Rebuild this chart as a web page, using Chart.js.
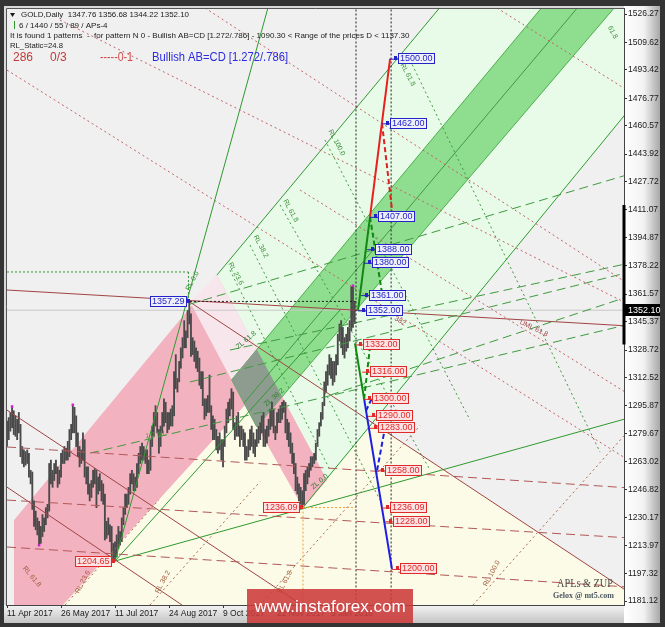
<!DOCTYPE html>
<html>
<head>
<meta charset="utf-8">
<script src="https://cdn.jsdelivr.net/npm/chart.js@4.4.0/dist/chart.umd.min.js"></script>
<style>
html, body { margin: 0; padding: 0; background: #343434; }
canvas { display: block; }
</style>
</head>
<body>
<canvas id="chart" width="665" height="627"></canvas>
<script>
// daily bars, GOLD, 11 Apr 2017 .. 26 Jan 2018 (index = bar number)
const highs = [
  1287,1289,1292,1295,1293,1290,1288,1292,1285,1272,
  1270,1269,1270,1268,1258,1257,1240,1234,1230,1228,
  1225,1232,1230,1236,1238,1262,1264,1258,1262,1264,
  1260,1258,1268,1270,1272,1271,1275,1282,1285,1296,
  1295,1290,1280,1272,1270,1280,1276,1260,1260,1250,
  1252,1258,1259,1258,1254,1256,1252,1250,1244,1228,
  1230,1226,1225,1215,1216,1220,1225,1222,1230,1236,
  1244,1244,1248,1256,1258,1256,1254,1262,1268,1272,
  1274,1272,1270,1270,1264,1276,1284,1292,1296,1292,
  1282,1284,1292,1300,1298,1292,1292,1294,1296,1316,
  1326,1312,1322,1330,1336,1346,1340,1352,1357.29,1350,
  1336,1334,1330,1328,1324,1316,1316,1300,1300,1302,
  1314,1296,1290,1288,1282,1278,1280,1276,1276,1284,
  1294,1298,1300,1306,1304,1286,1290,1292,1284,1284,
  1282,1280,1272,1276,1282,1284,1280,1276,1282,1284,
  1286,1290,1292,1282,1284,1288,1294,1298,1294,1284,
  1292,1294,1296,1298,1299,1298,1288,1286,1280,1274,
  1268,1262,1254,1250,1248,1246,1256,1258,1260,1262,
  1266,1266,1268,1274,1282,1286,1292,1298,1310,1316,
  1320,1326,1324,1322,1322,1326,1338,1344,1346,1342,
  1336,1338,1342,1346,1366,1366,1356.68
];
const lows = [
  1272,1276,1281,1283,1279,1278,1276,1280,1266,1262,
  1260,1261,1262,1254,1250,1235,1225,1223,1220,1214,
  1215,1219,1222,1226,1230,1234,1250,1248,1252,1256,
  1248,1250,1254,1262,1262,1264,1264,1266,1276,1280,
  1280,1272,1266,1260,1262,1264,1254,1250,1244,1240,
  1242,1248,1250,1236,1244,1246,1240,1238,1217,1218,
  1220,1216,1205,1205,1204.65,1207,1212,1214,1216,1226,
  1232,1236,1238,1244,1250,1246,1246,1248,1256,1262,
  1264,1264,1262,1256,1256,1258,1272,1278,1284,1280,
  1268,1272,1280,1284,1286,1280,1282,1284,1284,1290,
  1306,1304,1310,1318,1324,1330,1330,1336,1344,1325,
  1326,1322,1318,1316,1308,1306,1296,1288,1290,1292,
  1292,1282,1276,1276,1270,1268,1270,1264,1260,1272,
  1280,1286,1290,1294,1282,1276,1278,1278,1272,1276,
  1272,1264,1264,1266,1270,1272,1268,1266,1272,1274,
  1276,1280,1272,1272,1274,1278,1282,1284,1280,1276,
  1280,1286,1286,1288,1292,1280,1276,1272,1268,1262,
  1256,1246,1244,1240,1238,1236.09,1238,1246,1250,1254,
  1258,1260,1262,1264,1272,1278,1284,1288,1296,1304,
  1308,1314,1312,1308,1310,1314,1320,1334,1330,1326,
  1324,1328,1330,1334,1340,1342,1344.22
];
const dateTicks = [0, 32, 64, 96, 128, 160, 192];
const dateLabels = ['11 Apr 2017', '26 May 2017', '11 Jul 2017', '24 Aug 2017', '9 Oct 2017', '22 Nov 2017', '5 Jan 2018'];
const priceTicks = [1526.27, 1509.62, 1493.42, 1476.77, 1460.57, 1443.92, 1427.72, 1411.07, 1394.87, 1378.22, 1361.57,
  1345.37, 1328.72, 1312.52, 1295.87, 1279.67, 1263.02, 1246.82, 1230.17, 1213.97, 1197.32, 1181.12];
const lastPrice = 1352.10;
const zupPeaks = [[3, 1295.5], [19, 1214], [39, 1296.5], [205, 1366.5]];

// AB=CD targets
const upLevels = [1500, 1462, 1407, 1388, 1380, 1361, 1352];
const upBars = [227, 222.2, 215.1, 213.3, 211.6, 209.8, 208];
const downLevels = [1332, 1316, 1300, 1290, 1283, 1258, 1236.09, 1228, 1200];
const downBars = [206.2, 210.4, 211.6, 213.9, 215.1, 219.3, 222.2, 224, 228.1];
const pivotLevels = [1357.29, 1204.65, 1236.09];
const pivotBars = [108.4, 64, 175.4];

// filled channels [bar, price]
const yellowZone = [[30, 1175], [108.4, 1356.9], [369.2, 1185.8], [375, 1182], [375, 1175]];
const greenZone = [[124.4, 1372.8], [260.2, 1534.5], [421.9, 1534.5], [189.6, 1252.3]];
const pinkZone = [[4.1, 1175], [4.1, 1228.7], [124.4, 1372.8], [189.6, 1252.3], [175.4, 1235.8], [141, 1296.4], [29.7, 1175]];
const pinkCross = [[108.4, 1356.9], [124.4, 1372.8], [154.7, 1316.9], [141, 1296.4]];
const bandZone = [[133.1, 1311.2], [320.6, 1534.5], [363.8, 1534.5], [147.9, 1283.7]];
const grayZone = [[133.1, 1311.2], [148, 1329.1], [163, 1301.2], [147.9, 1283.7]];

// lines [bar1, price1, bar2, price2]
const greenSolid = [[64, 1204.65, 155.9, 1534.5], [124.4, 1372.8, 260.2, 1534.5], [175.4, 1236.09, 421.9, 1534.5],
  [64, 1204.65, 369.2, 1289], [64, 1204.65, 197.3, 1352.2]];
const bandMid = [[140.4, 1297.5, 341.9, 1534.5]];
const brownSolid = [[0, 1364, 369.2, 1342.8], [108.4, 1356.9, 369.2, 1185.8], [0, 1293.4, 174.8, 1178.8], [0, 1248.1, 103.7, 1178.8]];
const brownDash = [[0, 1271.7, 369.2, 1247.6], [0, 1240.5, 369.2, 1218.2], [0, 1212.9, 369.2, 1189.3]];
const greenDash = [[108.4, 1355.7, 369.2, 1432.2], [132.1, 1328.7, 369.2, 1379.9], [108.4, 1309.9, 369.2, 1374.6],
  [49.2, 1268.1, 369.2, 1344], [191.4, 1302.2, 369.2, 1360.5]];
const greenDot = [[188.4, 1452.2, 274.4, 1287.5], [161.8, 1414, 250.7, 1258.1], [144, 1390.4, 221, 1240.5],
  [238.8, 1499.2, 351.4, 1268.7], [132.1, 1375.7, 191.4, 1258.1]];
const redDot = [[290.4, 1529.8, 369.2, 1480.4], [117.3, 1529.8, 369.2, 1366.9], [31.4, 1522.7, 369.2, 1355.2],
  [0, 1493.3, 369.2, 1263.4], [173.6, 1422.8, 369.2, 1302.2]];
const brownDot = [[276.1, 1178.8, 371, 1284.3], [149.9, 1178.8, 244.7, 1284.3], [84.7, 1178.8, 150, 1251.4], [34.4, 1178.8, 90, 1240.6]];
const blackDot = [[206.8, 1175, 206.8, 1535], [227.6, 1175, 227.6, 1535], [108.4, 1357.29, 206.8, 1357.29]];
const greenGuide = [[0, 1374.6, 107.5, 1374.6], [107.5, 1374.6, 107.5, 1357.3]];
const orangeDot = [[175.4, 1236.09, 206.8, 1236.09], [175.4, 1236.09, 175.4, 1175]];
const priceLine = [[-1, 1352.1, 370, 1352.1]];
// projection legs
const legGreen = [[208, 1352, 215.1, 1407], [206.2, 1332.6, 211.6, 1300]];
const legGreenDash = [[215.1, 1407, 222.2, 1362.2], [211.6, 1300, 215, 1330]];
const legRed = [[215.1, 1407, 227, 1500]];
const legRedDash = [[222.2, 1462, 228.4, 1409]];
const legBlue = [[211.6, 1300, 228.1, 1200]];
const legBlueDash = [[212.7, 1293, 216.3, 1300.5], [219.3, 1258, 223.6, 1281]];

const lineTags = [
  ['RL 100.0', 191.4, 1458, 62, '#3d8f3d'], ['RL 61.8', 164.7, 1417, 62, '#3d8f3d'], ['RL 38.2', 147, 1396, 62, '#3d8f3d'],
  ['RL 23.6', 132.1, 1380, 62, '#3d8f3d'], ['RL 61.8', 234.1, 1497, 62, '#3d8f3d'], ['61.8', 357, 1519, 62, '#3d8f3d'],
  ['RL 0.0', 107, 1364, -62, '#3d8f3d'], ['1/2 ML', 82, 1278, -8, '#4d9a3d'],
  ['ZL 61.8', 136.3, 1330, -40, '#2f7f2f'], ['ZL 38.2', 152.9, 1296.4, -40, '#2f7f2f'], ['ZL 0.0', 180.7, 1247.6, -40, '#2f7f2f'],
  ['UML 61.8', 304, 1345.2, 25, '#a04848'], ['382', 229.9, 1347.5, 30, '#a04848'],
  ['RL 61.8', 10, 1201, 50, '#a05a3a'], ['RL 23.6', 41.5, 1186, -62, '#a05a3a'], ['RL 38.2', 88.9, 1186, -62, '#a05a3a'],
  ['RL 61.8', 161.2, 1186, -62, '#a05a3a'], ['RL 100.0', 283.3, 1190, -62, '#a05a3a']
];

Chart.defaults.font.family = '"Liberation Sans", Arial, sans-serif';

const datasets = [];
function poly(pts, bg, border, order) {
  datasets.push({
    type: 'line', data: pts.concat([pts[0]]).map(p => ({x: p[0], y: p[1]})),
    fill: 'shape', backgroundColor: bg, borderColor: border || 'rgba(0,0,0,0)', borderWidth: 1,
    pointRadius: 0, order: order
  });
}
function segs(list, color, width, dash, order) {
  list.forEach(s => datasets.push({
    type: 'line', data: [{x: s[0], y: s[1]}, {x: s[2], y: s[3]}],
    borderColor: color, borderWidth: width, borderDash: dash, pointRadius: 0, fill: false, order: order
  }));
}

poly(yellowZone, '#fbfbe8', null, 100);
poly(greenZone, '#e8fbe8', null, 99);
poly(pinkZone, '#f3b2c0', null, 98);
poly(pinkCross, '#f7e7ec', null, 97);
poly(bandZone, '#8fde8f', '#4caf4c', 96);
poly(grayZone, '#8e9c8f', null, 95);
segs(bandMid, '#3f9a3f', 1, [], 94);
segs(priceLine, '#c8c8c8', 1, [], 60);

datasets.push({
  type: 'bar', data: highs.map((h, i) => ({x: i, y: [lows[i], h]})),
  backgroundColor: '#4a4a4a', barThickness: 1.2, grouped: false, order: 50
});

segs(brownDash, '#b25858', 1, [9, 5], 20);
segs(redDot, '#c46262', 1, [2, 3], 20);
segs(brownDot, '#aa6a4a', 1, [2, 3], 20);
segs(greenDot, '#3f9a3f', 1, [2, 3], 20);
segs(greenDash, '#3f9a3f', 1, [9, 5], 20);
segs(brownSolid, '#a04444', 1, [], 20);
segs(greenSolid, '#2f9a2f', 1, [], 20);
segs(blackDot, '#222222', 1, [2, 2], 15);
segs(greenGuide, '#2f9a2f', 1, [2, 2], 15);
segs(orangeDot, '#f0a030', 1, [2, 2], 15);
segs(legGreenDash, '#118811', 2, [5, 3], 10);
segs(legRedDash, '#e02020', 2, [5, 3], 10);
segs(legBlueDash, '#1e1ee0', 2, [5, 3], 10);
segs(legGreen, '#118811', 2, [], 9);
segs(legRed, '#e82020', 2, [], 9);
segs(legBlue, '#1e1ee0', 2, [], 9);

datasets.push({
  type: 'line', showLine: false, data: zupPeaks.map(p => ({x: p[0], y: p[1]})),
  pointRadius: 1.8, pointStyle: 'rect', pointBackgroundColor: '#d020d0', pointBorderWidth: 0, order: 1
});
// last range marker on the price scale
datasets.push({
  type: 'line', data: [{x: 365.6, y: 1414}, {x: 365.6, y: 1332}], borderColor: '#000', borderWidth: 3,
  pointRadius: 0, clip: false, order: 1
});

function priceBox(ctx, px, py, text, color, fill, right) {
  ctx.font = '9px "Liberation Sans", Arial, sans-serif';
  const w = Math.round(ctx.measureText(text).width) + 4, h = 11;
  const bx = right ? Math.round(px) + 8 : Math.round(px) - 3 - w;
  const by = Math.round(py - h / 2);
  ctx.strokeStyle = color; ctx.lineWidth = 1;
  ctx.beginPath();
  if (right) { ctx.moveTo(px, py + 0.5); ctx.lineTo(bx, py + 0.5); } else { ctx.moveTo(bx + w, py + 0.5); ctx.lineTo(px, py + 0.5); }
  ctx.stroke();
  ctx.fillStyle = color;
  ctx.fillRect(right ? bx - 4 : bx + w, by + 3, 3, 4);
  ctx.fillStyle = fill; ctx.fillRect(bx, by, w, h);
  ctx.strokeRect(bx + 0.5, by + 0.5, w - 1, h - 1);
  ctx.fillStyle = color; ctx.textBaseline = 'middle'; ctx.textAlign = 'left';
  ctx.fillText(text, bx + 2, by + h / 2 + 0.5);
}

const frame = {
  id: 'frame',
  beforeDraw(chart) {
    const {ctx, chartArea: a, width, height} = chart;
    ctx.save();
    ctx.fillStyle = '#343434'; ctx.fillRect(0, 0, width, height);
    ctx.fillStyle = '#d8d8d8'; ctx.fillRect(4, 6, 656, 617);
    let g = ctx.createLinearGradient(a.right, 0, 660, 0);
    g.addColorStop(0, '#ffffff'); g.addColorStop(0.55, '#f2f2f2'); g.addColorStop(1, '#a8a8a8');
    ctx.fillStyle = g; ctx.fillRect(a.right, 6, 660 - a.right, 617);
    g = ctx.createLinearGradient(0, a.bottom, 0, 623);
    g.addColorStop(0, '#f4f4f4'); g.addColorStop(1, '#c4c4c4');
    ctx.fillStyle = g; ctx.fillRect(4, a.bottom, a.right - 4, 623 - a.bottom);
    ctx.fillStyle = '#f0f0f0'; ctx.fillRect(a.left, a.top, a.right - a.left, a.bottom - a.top);
    ctx.restore();
  }
};

const overlay = {
  id: 'overlay',
  afterDatasetsDraw(chart) {
    const {ctx, chartArea: a, scales: {x, y}} = chart;
    ctx.save();
    ctx.beginPath(); ctx.rect(a.left, a.top, a.right - a.left, a.bottom - a.top); ctx.clip();
    // labels along channel lines
    ctx.font = '7px "Liberation Sans", Arial, sans-serif';
    ctx.textBaseline = 'middle'; ctx.textAlign = 'left';
    lineTags.forEach(t => {
      ctx.save();
      ctx.translate(x.getPixelForValue(t[1]), y.getPixelForValue(t[2]));
      ctx.rotate(t[3] * Math.PI / 180);
      ctx.fillStyle = t[4]; ctx.fillText(t[0], 0, 0);
      ctx.restore();
    });
    // price labels
    upLevels.forEach((v, i) => priceBox(ctx, x.getPixelForValue(upBars[i]), y.getPixelForValue(v), v.toFixed(2), '#2323c8', '#eef0fb', true));
    downLevels.forEach((v, i) => priceBox(ctx, x.getPixelForValue(downBars[i]), y.getPixelForValue(v), v.toFixed(2), '#e02a2a', '#fde3e3', true));
    pivotLevels.forEach((v, i) => priceBox(ctx, x.getPixelForValue(pivotBars[i]), y.getPixelForValue(v), v.toFixed(2),
      i === 0 ? '#2323c8' : '#e02a2a', i === 0 ? '#eef0fb' : '#fde3e3', false));

    // header
    ctx.fillStyle = '#1a1a1a';
    ctx.beginPath(); ctx.moveTo(10, 13); ctx.lineTo(15, 13); ctx.lineTo(12.5, 17); ctx.closePath(); ctx.fill();
    ctx.font = '8px "Liberation Sans", Arial, sans-serif';
    ctx.fillText('GOLD,Daily  1347.76 1356.68 1344.22 1352.10', 21, 15, 168);
    ctx.fillStyle = '#2f9a2f'; ctx.fillRect(14, 21, 1, 8);
    ctx.fillStyle = '#1a1a1a';
    ctx.fillText('6 / 1440 / 55 / 89 / APs-4', 19, 25.5, 91);
    ctx.fillText('It is found 1 patterns  -  for pattern N 0 - Bullish AB=CD [1.272/.786] - 1090.30 < Range of the prices D < 1137.30', 10, 35.5, 405);
    ctx.fillText('RL_Static=24.8', 10, 46, 53);
    ctx.font = '12px "Liberation Sans", Arial, sans-serif';
    ctx.fillStyle = '#c23a3a';
    ctx.fillText('286', 13, 58);
    ctx.fillText('0/3', 50, 58);
    ctx.fillStyle = '#d04848';
    ctx.fillText('-----0-1', 100, 58, 33);
    ctx.fillStyle = '#2b2be0';
    ctx.fillText('Bullish AB=CD [1.272/.786]', 152, 58, 136);

    // signature
    ctx.fillStyle = '#4a4a4a';
    ctx.font = '12px "Liberation Serif", serif';
    ctx.fillText('APLs & ZUP', 557, 584, 56);
    ctx.fillStyle = '#4a5560';
    ctx.font = 'bold 8px "Liberation Serif", serif';
    ctx.fillText('Gelox @ mt5.com', 553, 596, 64);
    ctx.restore();
  },
  afterDraw(chart) {
    const {ctx, chartArea: a, scales: {y}} = chart;
    ctx.save();
    ctx.strokeStyle = '#555'; ctx.lineWidth = 1;
    ctx.beginPath();
    ctx.moveTo(a.left + 0.5, a.bottom); ctx.lineTo(a.left + 0.5, a.top + 0.5); ctx.lineTo(a.right, a.top + 0.5);
    ctx.stroke();
    // current price tag
    const py = Math.round(y.getPixelForValue(lastPrice));
    ctx.fillStyle = '#000'; ctx.fillRect(a.right + 1, py - 6, 35, 12);
    ctx.fillStyle = '#fff'; ctx.font = '9px "Liberation Sans", Arial, sans-serif';
    ctx.textBaseline = 'middle'; ctx.textAlign = 'left';
    ctx.fillText(lastPrice.toFixed(2), a.right + 4, py + 0.5);
    // watermark
    ctx.fillStyle = 'rgba(204, 58, 58, 0.88)';
    ctx.fillRect(247, 589, 166, 34);
    ctx.fillStyle = '#fff'; ctx.font = '17px "Liberation Sans", Arial, sans-serif';
    ctx.textAlign = 'center';
    ctx.fillText('www.instaforex.com', 330, 607);
    ctx.restore();
  }
};

new Chart(document.getElementById('chart'), {
  type: 'line',
  data: {datasets: datasets},
  options: {
    responsive: false,
    animation: false,
    events: [],
    layout: {padding: {left: 6, top: 8, right: 5, bottom: 4}},
    plugins: {legend: {display: false}, tooltip: {enabled: false}},
    scales: {
      x: {
        type: 'linear', min: -0.6, max: 365.6, offset: false,
        afterBuildTicks: axis => { axis.ticks = dateTicks.map(v => ({value: v})); },
        afterFit: s => { s.height = 18; },
        ticks: {
          autoSkip: false, maxRotation: 0, align: 'start', padding: 1, color: '#1a1a1a',
          font: {size: 8.5},
          callback: v => dateLabels[dateTicks.indexOf(v)]
        },
        grid: {offset: false, drawOnChartArea: false, drawTicks: true, tickLength: 3, color: '#333'},
        border: {display: true, color: '#444'}
      },
      y: {
        type: 'linear', position: 'right', min: 1178.8, max: 1529.8,
        afterBuildTicks: axis => { axis.ticks = priceTicks.map(v => ({value: v})); },
        afterFit: s => { s.width = 36; },
        ticks: {
          autoSkip: false, padding: 1, color: '#1a1a1a', font: {size: 8.5},
          callback: v => v.toFixed(2)
        },
        grid: {drawOnChartArea: false, drawTicks: true, tickLength: 3, color: '#333'},
        border: {display: true, color: '#444'}
      }
    }
  },
  plugins: [frame, overlay]
});
</script>
</body>
</html>
